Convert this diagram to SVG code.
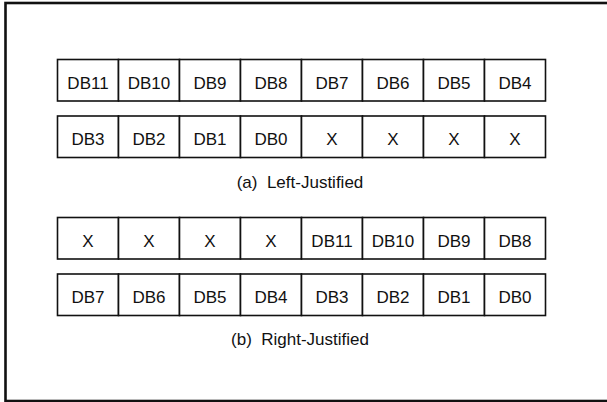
<svg xmlns="http://www.w3.org/2000/svg" width="607" height="402" viewBox="0 0 607 402">
<style>
.frame{fill:none;stroke:#111;stroke-width:2.6}
.cell rect{fill:#fff;stroke:#111;stroke-width:1.6}
.cell text,.cap{font-family:"Liberation Sans",Arial,sans-serif;font-size:17px;fill:#111;text-anchor:middle}
</style>
<rect width="607" height="402" fill="#fff"/>
<rect class="frame" x="5.5" y="3" width="606" height="398"/>
<g id="row-a1">
<g id="a1-0" class="cell"><rect x="57.5" y="59.5" width="61" height="41.5"/><text x="88" y="88.5">DB11</text></g>
<g id="a1-1" class="cell"><rect x="118.5" y="59.5" width="61" height="41.5"/><text x="149" y="88.5">DB10</text></g>
<g id="a1-2" class="cell"><rect x="179.5" y="59.5" width="61" height="41.5"/><text x="210" y="88.5">DB9</text></g>
<g id="a1-3" class="cell"><rect x="240.5" y="59.5" width="61" height="41.5"/><text x="271" y="88.5">DB8</text></g>
<g id="a1-4" class="cell"><rect x="301.5" y="59.5" width="61" height="41.5"/><text x="332" y="88.5">DB7</text></g>
<g id="a1-5" class="cell"><rect x="362.5" y="59.5" width="61" height="41.5"/><text x="393" y="88.5">DB6</text></g>
<g id="a1-6" class="cell"><rect x="423.5" y="59.5" width="61" height="41.5"/><text x="454" y="88.5">DB5</text></g>
<g id="a1-7" class="cell"><rect x="484.5" y="59.5" width="61" height="41.5"/><text x="515" y="88.5">DB4</text></g>
</g>
<g id="row-a2">
<g id="a2-0" class="cell"><rect x="57.5" y="116" width="61" height="41.5"/><text x="88" y="145">DB3</text></g>
<g id="a2-1" class="cell"><rect x="118.5" y="116" width="61" height="41.5"/><text x="149" y="145">DB2</text></g>
<g id="a2-2" class="cell"><rect x="179.5" y="116" width="61" height="41.5"/><text x="210" y="145">DB1</text></g>
<g id="a2-3" class="cell"><rect x="240.5" y="116" width="61" height="41.5"/><text x="271" y="145">DB0</text></g>
<g id="a2-4" class="cell"><rect x="301.5" y="116" width="61" height="41.5"/><text x="332" y="145">X</text></g>
<g id="a2-5" class="cell"><rect x="362.5" y="116" width="61" height="41.5"/><text x="393" y="145">X</text></g>
<g id="a2-6" class="cell"><rect x="423.5" y="116" width="61" height="41.5"/><text x="454" y="145">X</text></g>
<g id="a2-7" class="cell"><rect x="484.5" y="116" width="61" height="41.5"/><text x="515" y="145">X</text></g>
</g>
<text id="cap-a" class="cap" x="300" y="187.5" xml:space="preserve">(a)  Left-Justified</text>
<g id="row-b1">
<g id="b1-0" class="cell"><rect x="57.5" y="217.5" width="61" height="41.5"/><text x="88" y="246.5">X</text></g>
<g id="b1-1" class="cell"><rect x="118.5" y="217.5" width="61" height="41.5"/><text x="149" y="246.5">X</text></g>
<g id="b1-2" class="cell"><rect x="179.5" y="217.5" width="61" height="41.5"/><text x="210" y="246.5">X</text></g>
<g id="b1-3" class="cell"><rect x="240.5" y="217.5" width="61" height="41.5"/><text x="271" y="246.5">X</text></g>
<g id="b1-4" class="cell"><rect x="301.5" y="217.5" width="61" height="41.5"/><text x="332" y="246.5">DB11</text></g>
<g id="b1-5" class="cell"><rect x="362.5" y="217.5" width="61" height="41.5"/><text x="393" y="246.5">DB10</text></g>
<g id="b1-6" class="cell"><rect x="423.5" y="217.5" width="61" height="41.5"/><text x="454" y="246.5">DB9</text></g>
<g id="b1-7" class="cell"><rect x="484.5" y="217.5" width="61" height="41.5"/><text x="515" y="246.5">DB8</text></g>
</g>
<g id="row-b2">
<g id="b2-0" class="cell"><rect x="57.5" y="274" width="61" height="41.5"/><text x="88" y="303">DB7</text></g>
<g id="b2-1" class="cell"><rect x="118.5" y="274" width="61" height="41.5"/><text x="149" y="303">DB6</text></g>
<g id="b2-2" class="cell"><rect x="179.5" y="274" width="61" height="41.5"/><text x="210" y="303">DB5</text></g>
<g id="b2-3" class="cell"><rect x="240.5" y="274" width="61" height="41.5"/><text x="271" y="303">DB4</text></g>
<g id="b2-4" class="cell"><rect x="301.5" y="274" width="61" height="41.5"/><text x="332" y="303">DB3</text></g>
<g id="b2-5" class="cell"><rect x="362.5" y="274" width="61" height="41.5"/><text x="393" y="303">DB2</text></g>
<g id="b2-6" class="cell"><rect x="423.5" y="274" width="61" height="41.5"/><text x="454" y="303">DB1</text></g>
<g id="b2-7" class="cell"><rect x="484.5" y="274" width="61" height="41.5"/><text x="515" y="303">DB0</text></g>
</g>
<text id="cap-b" class="cap" x="300" y="345" xml:space="preserve">(b)  Right-Justified</text>
</svg>
